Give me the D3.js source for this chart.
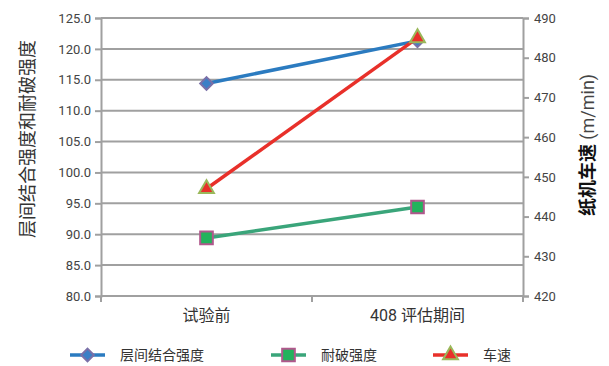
<!DOCTYPE html>
<html><head><meta charset="UTF-8">
<script src="https://d3js.org/d3.v7.min.js"></script>
<style>
  body { margin: 0; background: #fff; }
  svg text { font-family: Roboto, "Noto Sans CJK SC", sans-serif; }
</style>
</head>
<body>
<div id="chart"></div>
<script>
const categories = ["试验前", "408 评估期间"];
const bondStrength = [114.4, 121.3];   // 层间结合强度 (left)
const burstStrength = [89.4, 94.4];    // 耐破强度 (left)
const speed = [447, 485];              // 车速 (right)
const leftTicks = [80, 85, 90, 95, 100, 105, 110, 115, 120, 125];
const rightTicks = [420, 430, 440, 450, 460, 470, 480, 490];

const W = 609, H = 366;
const m = { top: 18, right: 86, bottom: 70, left: 101 };
const pw = W - m.left - m.right, ph = H - m.top - m.bottom;

const svg = d3.select("#chart").append("svg").attr("width", W).attr("height", H);
const g = svg.append("g").attr("transform", `translate(${m.left},${m.top})`);

const x = d3.scaleBand().domain(categories).range([0, pw]);
const yL = d3.scaleLinear().domain([80, 125]).range([ph, 0]);
const yR = d3.scaleLinear().domain([420, 490]).range([ph, 0]);
const grey = "#a0a0a0";

// gridlines
g.selectAll(".grid").data(leftTicks).enter().append("line")
  .attr("x1", 0).attr("x2", pw)
  .attr("y1", d => yL(d)).attr("y2", d => yL(d))
  .attr("stroke", grey).attr("stroke-width", 2);

// left axis
const axL = g.append("g").call(d3.axisLeft(yL).tickValues(leftTicks).tickFormat(d3.format(".1f")).tickSize(6).tickPadding(4));
axL.select(".domain").attr("stroke", grey).attr("stroke-width", 2);
axL.selectAll(".tick line").attr("stroke", grey).attr("stroke-width", 2);
axL.selectAll("text").attr("font-size", 13).attr("fill", "#444");

// right axis
const axR = g.append("g").attr("transform", `translate(${pw},0)`)
  .call(d3.axisRight(yR).tickValues(rightTicks).tickSize(6).tickPadding(5));
axR.select(".domain").attr("stroke", grey).attr("stroke-width", 2);
axR.selectAll(".tick line").attr("stroke", grey).attr("stroke-width", 2);
axR.selectAll("text").attr("font-size", 13).attr("fill", "#444")
  .style("font-family", "'Liberation Sans Narrow', Roboto, sans-serif");

// bottom axis
const axB = g.append("g").attr("transform", `translate(0,${ph})`)
  .call(d3.axisBottom(x).tickSize(0).tickPadding(14));
axB.select(".domain").remove();
axB.selectAll("text").attr("font-size", 16).attr("fill", "#333");
[0, pw / 2, pw].forEach(v => g.append("line")
  .attr("x1", v).attr("x2", v).attr("y1", ph).attr("y2", ph + 6)
  .attr("stroke", grey).attr("stroke-width", 2));

// axis titles
svg.append("text").attr("transform", "translate(34,139) rotate(-90)")
  .attr("text-anchor", "middle").attr("font-size", 18).attr("fill", "#333")
  .text("层间结合强度和耐破强度");
const rt = svg.append("text").attr("transform", "translate(594,145) rotate(-90)")
  .attr("text-anchor", "middle").attr("font-size", 18);
rt.append("tspan").attr("font-weight", "bold").attr("fill", "#111").text("纸机车速");
rt.append("tspan").attr("fill", "#444").text(" (m/min)");

// series
const series = [
  { name: "层间结合强度", values: bondStrength, y: yL, color: "#2b7bc0", fill: "#3b7fc6", stroke: "#7a70a8", sym: d3.symbolSquare, size: 80, rot: 45 },
  { name: "耐破强度", values: burstStrength, y: yL, color: "#3aa57a", fill: "#22b35c", stroke: "#b0588c", sym: d3.symbolSquare, size: 160, rot: 0 },
  { name: "车速", values: speed, y: yR, color: "#e8302a", fill: "#e8302a", stroke: "#9ab85a", sym: d3.symbolTriangle, size: 95, rot: 0 }
];
const cx = c => x(c) + x.bandwidth() / 2;

series.forEach(s => {
  const pts = categories.map((c, i) => [cx(c), s.y(s.values[i])]);
  g.append("path").attr("d", d3.line()(pts)).attr("fill", "none")
    .attr("stroke", s.color).attr("stroke-width", 3.5);
  g.selectAll(null).data(pts).enter().append("path")
    .attr("transform", d => `translate(${d[0]},${d[1]}) rotate(${s.rot})`)
    .attr("d", d3.symbol().type(s.sym).size(s.size))
    .attr("fill", s.fill).attr("stroke", s.stroke).attr("stroke-width", 2);
});

// legend
const legX = [70, 271, 433];
series.forEach((s, i) => {
  const lg = svg.append("g").attr("transform", `translate(${legX[i]},355)`);
  lg.append("line").attr("x1", 0).attr("x2", 35).attr("stroke", s.color).attr("stroke-width", 3.5);
  lg.append("path").attr("transform", `translate(17.5,0) rotate(${s.rot})`)
    .attr("d", d3.symbol().type(s.sym).size(s.size))
    .attr("fill", s.fill).attr("stroke", s.stroke).attr("stroke-width", 2);
  lg.append("text").attr("x", 50).attr("dy", "0.35em").attr("font-size", 14).attr("fill", "#333").text(s.name);
});
</script>
</body></html>
